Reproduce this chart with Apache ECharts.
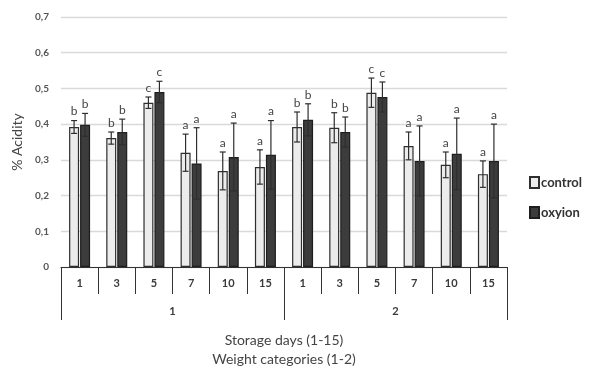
<!DOCTYPE html>
<html>
<head>
<meta charset="utf-8">
<script src="https://cdn.jsdelivr.net/npm/echarts@6/dist/echarts.min.js"></script>
<style>
  html, body { margin: 0; padding: 0; background: #fff; }
  #chart { width: 595px; height: 367px; }
</style>
</head>
<body>
<div id="chart"></div>
<script>
// 数据：储存天数 × 重量分组
const DAYS = ["1", "3", "5", "7", "10", "15", "1", "3", "5", "7", "10", "15"];
const WEIGHT_GROUPS = ["1", "2"];
const Y_TICKS = [0, 0.1, 0.2, 0.3, 0.4, 0.5, 0.6, 0.7];

const CONTROL_MEAN = [0.392, 0.361, 0.46, 0.32, 0.269, 0.28, 0.392, 0.39, 0.488, 0.339, 0.286, 0.26];
const CONTROL_ERR = [0.018, 0.017, 0.016, 0.052, 0.053, 0.048, 0.042, 0.042, 0.041, 0.039, 0.036, 0.037];
const CONTROL_LETTER = ["b", "b", "c", "a", "a", "a", "b", "b", "c", "a", "a", "a"];

const OXY_MEAN = [0.398, 0.378, 0.49, 0.29, 0.308, 0.314, 0.412, 0.378, 0.476, 0.297, 0.317, 0.297];
const OXY_ERR = [0.032, 0.036, 0.03, 0.1, 0.095, 0.096, 0.045, 0.042, 0.042, 0.098, 0.1, 0.103];
const OXY_LETTER = ["b", "b", "c", "a", "a", "a", "b", "b", "c", "a", "a", "a"];

const FONT = "Lato";
const TEXT = "#3a3a3a";
const BAR_W = 10;
const GAP = 1;

// 误差线 + 字母标注
function errorSeries(name, mean, err, letters, side) {
  return {
    type: "custom",
    name: name + "-err",
    xAxisIndex: 0,
    yAxisIndex: 0,
    z: 5,
    silent: true,
    data: mean.map((m, i) => [i, m, err[i], letters[i]]),
    renderItem: function (params, api) {
      const i = api.value(0);
      const m = api.value(1);
      const e = api.value(2);
      const base = api.coord([i, m]);
      const x = base[0] + side * (BAR_W + GAP) / 2;
      const top = api.coord([i, m + e])[1];
      const bot = api.coord([i, m - e])[1];
      const st = { stroke: "#2e2e2e", lineWidth: 1.2 };
      return {
        type: "group",
        children: [
          { type: "line", shape: { x1: x, y1: top, x2: x, y2: bot }, style: st },
          { type: "line", shape: { x1: x - 3, y1: top, x2: x + 3, y2: top }, style: st },
          { type: "line", shape: { x1: x - 3, y1: bot, x2: x + 3, y2: bot }, style: st },
          {
            type: "text",
            x: x,
            y: top - 3,
            style: {
              text: letters[i],
              fill: "#444",
              font: "12px " + FONT,
              align: "center",
              verticalAlign: "bottom",
            },
          },
        ],
      };
    },
  };
}

const chart = echarts.init(document.getElementById("chart"));
chart.setOption({
  animation: false,
  textStyle: { fontFamily: FONT },
  grid: { left: 61, right: 88, top: 17, bottom: 100, outerBoundsMode: "none" },
  legend: {
    orient: "vertical",
    left: 524,
    top: 171,
    icon: "rect",
    itemWidth: 9,
    itemHeight: 11,
    itemGap: 17,
    data: ["control", "oxyion"],
    textStyle: { color: "#333", fontSize: 13, fontWeight: "bold", fontFamily: FONT, padding: [0, 0, 0, -3] },
  },
  xAxis: [
    {
      type: "category",
      data: DAYS,
      position: "bottom",
      axisLine: { lineStyle: { color: "#333", width: 1.2 } },
      axisTick: { show: true, length: 27, lineStyle: { color: "#333" } },
      axisLabel: { color: TEXT, fontSize: 11, fontWeight: "bold", margin: 11 },
    },
    {
      type: "category",
      data: WEIGHT_GROUPS,
      position: "bottom",
      axisLine: { show: false },
      axisTick: { show: true, length: 53, lineStyle: { color: "#333" } },
      axisLabel: { color: TEXT, fontSize: 11, fontWeight: "bold", margin: 39 },
      name: "Storage days (1-15)\nWeight categories (1-2)",
      nameLocation: "middle",
      nameGap: 64,
      nameTextStyle: { color: "#444", fontSize: 14, lineHeight: 19, fontFamily: FONT },
    },
  ],
  yAxis: {
    type: "value",
    min: 0,
    max: 0.7,
    interval: 0.1,
    name: "% Acidity",
    nameLocation: "middle",
    nameGap: 37,
    nameTextStyle: { color: "#444", fontSize: 14, fontFamily: FONT },
    axisLine: { show: false },
    axisTick: { show: false },
    axisLabel: {
      color: "#555",
      fontSize: 10,
      fontWeight: "bold",
      margin: 12,
      formatter: (v) => {
        const t = Y_TICKS.find((k) => Math.abs(k - v) < 1e-6);
        return t === 0 ? "0" : String(t.toFixed(1)).replace(".", ",");
      },
    },
    splitLine: { lineStyle: { color: "#d9d9d9", width: 1.3 } },
  },
  series: [
    {
      name: "control",
      type: "bar",
      data: CONTROL_MEAN,
      barWidth: BAR_W,
      barGap: "10%",
      itemStyle: { color: "#ececec", borderColor: "#2e2e2e", borderWidth: 1.2 },
    },
    {
      name: "oxyion",
      type: "bar",
      data: OXY_MEAN,
      barWidth: BAR_W,
      barGap: "10%",
      itemStyle: { color: "#3c3c3c", borderColor: "#1e1e1e", borderWidth: 1.2 },
    },
    errorSeries("control", CONTROL_MEAN, CONTROL_ERR, CONTROL_LETTER, -1),
    errorSeries("oxyion", OXY_MEAN, OXY_ERR, OXY_LETTER, 1),
  ],
});
</script>
</body>
</html>
